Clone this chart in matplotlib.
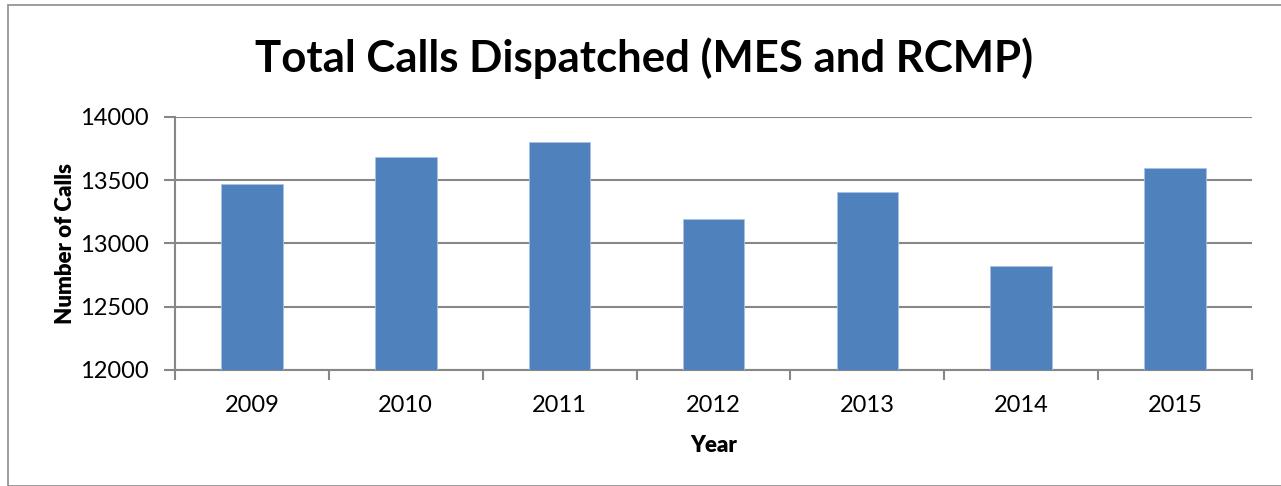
import matplotlib.pyplot as plt
from matplotlib.patches import Rectangle

years = ['2009', '2010', '2011', '2012', '2013', '2014', '2015']
calls = [13470, 13685, 13805, 13190, 13405, 12825, 13595]
yticks = [12000, 12500, 13000, 13500, 14000]

plt.rcParams['font.family'] = ['Lato', 'DejaVu Sans']

fig = plt.figure(figsize=(12.81, 4.86), dpi=100)
ax = fig.add_axes([175/1281, 1-370/486, (1252-175)/1281, (370-117)/486])

# chart border like a spreadsheet chart frame
fig.patches.append(Rectangle((8/1281, 0), 1.2, 1-5/486, transform=fig.transFigure,
                             fill=False, edgecolor='#8c8c8c', linewidth=1.2))

x = list(range(len(years)))
ax.bar(x, calls, width=0.4, color='#4f81bd', zorder=3, edgecolor='#a9c2e3', linewidth=0.6)

ax.set_xlim(-0.5, len(years) - 0.5)
ax.set_ylim(12000, 14000)
ax.set_yticks(yticks)
ax.set_yticklabels([str(v) for v in yticks])
ax.set_xticks(x)
ax.set_xticklabels(years)
ax.set_xticks([i - 0.5 for i in range(len(years) + 1)], minor=True)

gray = '#878787'
ax.grid(axis='y', color=gray, linewidth=1.5, zorder=0)
for s in ['top', 'right']:
    ax.spines[s].set_visible(False)
for s in ['left', 'bottom']:
    ax.spines[s].set_color(gray)
    ax.spines[s].set_linewidth(1.5)

ax.tick_params(axis='y', length=8, width=1.5, color=gray, labelsize=17, pad=11)
ax.tick_params(axis='x', which='major', length=0, labelsize=17, pad=18)
ax.tick_params(axis='x', which='minor', length=7, width=1.5, color=gray)

ax.set_ylabel('Number of Calls', fontsize=16, fontweight='heavy', labelpad=3)
ax.set_xlabel('Year', fontsize=16, fontweight='heavy', labelpad=14)

fig.text(644/1281, 1-58/486, 'Total Calls Dispatched (MES and RCMP)', fontsize=31.5,
         fontweight='bold', ha='center', va='center')

fig.savefig('out.png', dpi=100)
